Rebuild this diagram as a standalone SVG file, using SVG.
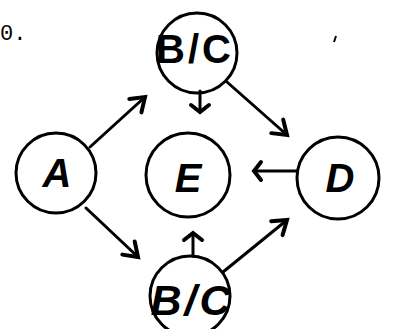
<svg xmlns="http://www.w3.org/2000/svg" width="393" height="329" viewBox="0 0 393 329">
<style>
.c{fill:none;stroke:#000;stroke-width:3}
.l{fill:none;stroke:#000;stroke-width:3;stroke-linecap:round}
.t{font-family:"Liberation Sans",Arial,sans-serif;font-weight:bold;fill:#000;text-anchor:middle}
.i{font-style:italic}
</style>
<defs>
<marker id="big" markerUnits="userSpaceOnUse" markerWidth="40" markerHeight="40" refX="0" refY="0" viewBox="-20 -20 40 40" orient="auto" overflow="visible">
<path d="M -13 -9 L 0 0 L -13 9" fill="none" stroke="#000" stroke-width="4" stroke-linejoin="miter" stroke-linecap="round"/>
</marker>
<marker id="small" markerUnits="userSpaceOnUse" markerWidth="40" markerHeight="40" refX="0" refY="0" viewBox="-20 -20 40 40" orient="auto" overflow="visible">
<path d="M -7 -9 L 0 0 L -7 9" fill="none" stroke="#000" stroke-width="4" stroke-linejoin="miter" stroke-linecap="round"/>
</marker>
</defs>
<text x="0" y="40" font-family="Liberation Mono, monospace" font-size="22" fill="#000">0.</text>
<path d="M336 36 L334 42" stroke="#000" stroke-width="2" fill="none"/>
<g id="connectors">
<path class="l" d="M90 147 L145 97" marker-end="url(#big)"/>
<path class="l" d="M200 91 L200 112" marker-end="url(#small)"/>
<path class="l" d="M227 82 L287 135" marker-end="url(#big)"/>
<path class="l" d="M297 171 L254 171" marker-end="url(#small)"/>
<path class="l" d="M86 208 L138 257" marker-end="url(#big)"/>
<path class="l" d="M193 256 L193 233" marker-end="url(#small)"/>
<path class="l" d="M223 272 L287 220" marker-end="url(#big)"/>
</g>
<g id="node-bc-top">
<circle class="c" cx="197" cy="53" r="40"/>
<text class="t" x="195" y="63" font-size="40" letter-spacing="3">B/C</text>
</g>
<g id="node-a">
<circle class="c" cx="56" cy="173" r="40"/>
<text class="t i" x="57" y="187" font-size="40">A</text>
</g>
<g id="node-e">
<circle class="c" cx="188" cy="175" r="42"/>
<text class="t i" x="188" y="192" font-size="40">E</text>
</g>
<g id="node-d">
<circle class="c" cx="338" cy="178" r="41"/>
<text class="t i" x="340" y="192" font-size="40">D</text>
</g>
<g id="node-bc-bottom">
<circle class="c" cx="190" cy="296" r="40"/>
<text class="t i" x="192" y="315" font-size="43" letter-spacing="3">B/C</text>
</g>
</svg>
